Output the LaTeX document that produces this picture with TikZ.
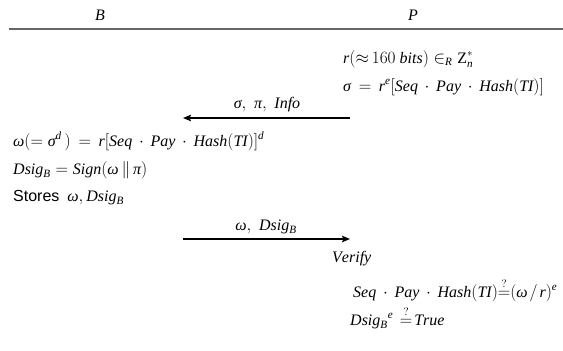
\documentclass[tikz,border=0pt]{standalone}
\usepackage{amsmath}
\usepackage{fontspec}
\setmainfont{Liberation Serif}
\newfontfamily\arialfont{Liberation Sans}
\usetikzlibrary{arrows.meta}
\newcommand{\mi}[1]{\mathit{#1}}
\newcommand{\gsig}{\text{\itshape σ}}
\newcommand{\gpi}{\text{\itshape π}}
\newcommand{\gomg}{\text{\itshape ω}}
\newcommand{\dt}{\mkern3mu\cdot\mkern3mu}
\newcommand{\qeq}{{\stackrel{?}{=}}}
\begin{document}
\begin{tikzpicture}[x=1pt,y=-1pt,
  txt/.style={anchor=base west,inner sep=0pt,font=\fontsize{16}{19}\selectfont},
  hdr/.style={anchor=base,inner sep=0pt,font=\fontsize{16}{19}\selectfont\itshape},
  lbl/.style={anchor=base,inner sep=0pt,font=\fontsize{16}{19}\selectfont},
  msg/.style={line width=2pt,-{Stealth[length=8pt,width=6.5pt,inset=1.5pt]}},
  rule/.style={line width=1.3pt,draw=black!60}]
\useasboundingbox (0,0) rectangle (563,351);
\node[hdr] (B) at (100,20) {B};
\node[hdr] (P) at (413,20) {P};
\coordinate (rl) at (9,29);
\coordinate (rr) at (563,29);
\draw[rule] (rl) -- (rr);
\node[txt] (p1) at (343,63) {$\mi{r}({\approx}\mkern3mu 160\ \mi{bits})\in_{\mi{R}} \mathrm{Z}_{\mi{n}}^{*}$};
\node[txt] (p2) at (343,91) {$\gsig\mkern3mu=\mkern3mu\mi{r}^{\mi{e}}[\mi{Seq}\dt \mi{Pay}\dt \mi{Hash}(\mi{TI})]$};
\node[lbl] (m1) at (267,108) {$\gsig,\;\gpi,\;\mi{Info}$};
\coordinate (a1s) at (350,118);
\coordinate (a1e) at (183,118);
\draw[msg] (a1s) -- (a1e);
\node[txt] (b1) at (13,146) {$\gomg(=\gsig^{\mi{d}}\,)\mkern3mu=\mkern3mu\mi{r}[\mi{Seq}\dt \mi{Pay}\dt \mi{Hash}(\mi{TI})]^{\mi{d}}$};
\node[txt] (b2) at (13,174) {$\mi{Dsig}_{\mi{B}}=\mi{Sign}(\gomg\,\|\,\gpi)$};
\node[txt] (b3) at (13,201) {{\arialfont Stores}\ \ $\gomg,\mi{Dsig}_{\mi{B}}$};
\node[lbl] (m2) at (266,230) {$\gomg,\;\mi{Dsig}_{\mi{B}}$};
\coordinate (a2s) at (183,239);
\coordinate (a2e) at (350,239);
\draw[msg] (a2s) -- (a2e);
\node[txt] (v0) at (332,262) {$\mi{Verify}$};
\node[txt] (v1) at (353,297) {$\mi{Seq}\dt \mi{Pay}\dt \mi{Hash}(\mi{TI})\qeq(\gomg\mkern2mu/\mkern2mu\mi{r})^{\mi{e}}$};
\node[txt] (v2) at (350,325) {$\mi{Dsig}_{\mi{B}}{}^{\mi{e}}\mkern7mu\qeq\mkern2mu\mi{True}$};
\end{tikzpicture}
\end{document}
